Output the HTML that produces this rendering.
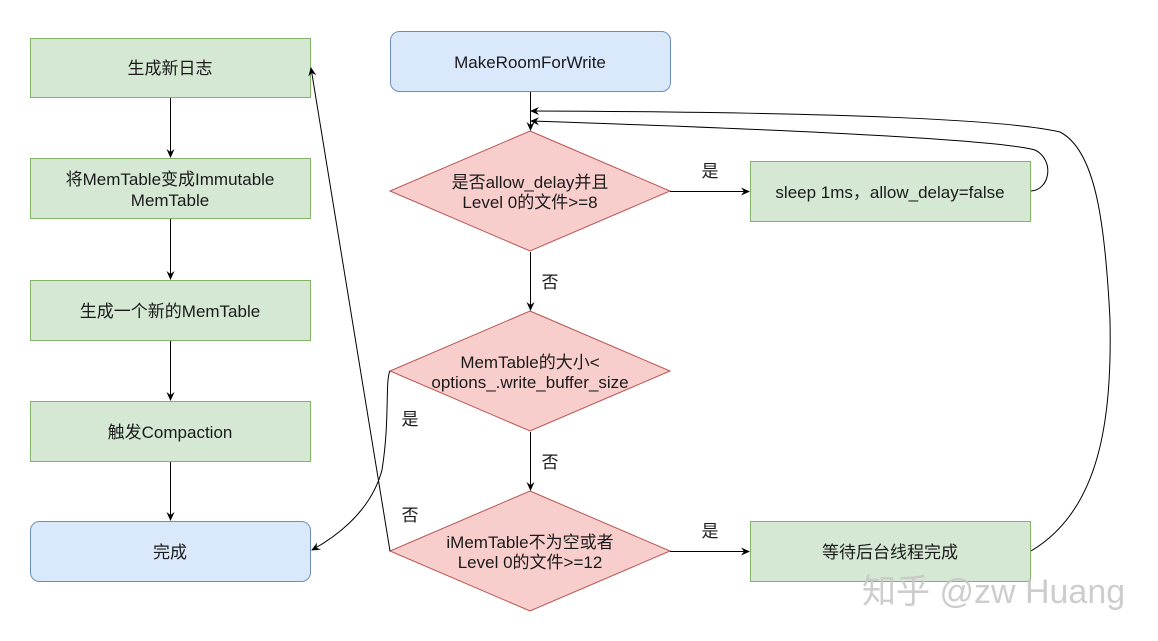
<!DOCTYPE html>
<html><head><meta charset="utf-8"><style>
html,body{margin:0;padding:0;background:#fff;}
svg{display:block;}
text{font-family:"Liberation Sans","Noto Sans CJK SC",sans-serif;font-size:17px;fill:#1a1a1a;}
</style></head><body>
<svg width="1158" height="641" viewBox="0 0 1158 641" xmlns="http://www.w3.org/2000/svg">
<defs><marker id="a" markerWidth="10" markerHeight="10" refX="8" refY="5" orient="auto" markerUnits="userSpaceOnUse"><path d="M0,1 L9,5 L0,9 L3,5 z" fill="#000"/></marker></defs>
<g stroke="#82b366" fill="#d5e8d4">
<rect x="30.5" y="38.5" width="280" height="59"/>
<rect x="30.5" y="158.5" width="280" height="60"/>
<rect x="30.5" y="280.5" width="280" height="60"/>
<rect x="30.5" y="401.5" width="280" height="60"/>
<rect x="750.5" y="161.5" width="280" height="60"/>
<rect x="750.5" y="521.5" width="280" height="60"/>
</g>
<g stroke="#6c8ebf" fill="#dae8fc">
<rect x="30.5" y="521.5" width="280" height="60" rx="9"/>
<rect x="390.5" y="31.5" width="280" height="60" rx="9"/>
</g>
<g stroke="#b85450" fill="#f8cecc">
<polygon points="530,131 670,191 530,251 390,191"/>
<polygon points="530,311 670,371 530,431 390,371"/>
<polygon points="530,491 670,551 530,611 390,551"/>
</g>
<g stroke="#000" stroke-width="1" fill="none" marker-end="url(#a)">
<line x1="170.5" y1="98" x2="170.5" y2="157"/>
<line x1="170.5" y1="219" x2="170.5" y2="279"/>
<line x1="170.5" y1="341" x2="170.5" y2="400"/>
<line x1="170.5" y1="462" x2="170.5" y2="520"/>
<line x1="530.5" y1="92" x2="530.5" y2="130"/>
<line x1="530.5" y1="252" x2="530.5" y2="310"/>
<line x1="530.5" y1="432" x2="530.5" y2="490"/>
<line x1="670" y1="191.5" x2="749" y2="191.5"/>
<line x1="670" y1="551.5" x2="749" y2="551.5"/>
<path d="M1031,191 C1050,190 1055,160 1035,150 C1000,140 800,130 531,121"/>
<path d="M1031,551 C1100,510 1112,420 1110,320 C1105,220 1095,150 1060,132 C1000,118 800,112 531,111"/>
<line x1="390" y1="551" x2="311" y2="68"/>
<path d="M390,371 C385,380 390,420 382,470 C370,515 330,540 312,550"/>
</g>
<g text-anchor="middle">
<text x="170" y="74">生成新日志</text>
<text x="170" y="185">将MemTable变成Immutable</text>
<text x="170" y="206">MemTable</text>
<text x="170" y="317">生成一个新的MemTable</text>
<text x="170" y="438">触发Compaction</text>
<text x="170" y="558">完成</text>
<text x="530" y="68">MakeRoomForWrite</text>
<text x="530" y="188">是否allow_delay并且</text>
<text x="530" y="208">Level 0的文件&gt;=8</text>
<text x="530" y="368">MemTable的大小&lt;</text>
<text x="530" y="388">options_.write_buffer_size</text>
<text x="530" y="548">iMemTable不为空或者</text>
<text x="530" y="568">Level 0的文件&gt;=12</text>
<text x="890" y="198">sleep 1ms，allow_delay=false</text>
<text x="890" y="558">等待后台线程完成</text>
<text x="710" y="177">是</text>
<text x="710" y="537">是</text>
<text x="550" y="288">否</text>
<text x="550" y="468">否</text>
<text x="410" y="425">是</text>
<text x="410" y="521">否</text>
</g>
<text x="862" y="603" style="font-size:34px;fill:#c8c8c8;opacity:0.9">知乎 @zw Huang</text>
</svg>
</body></html>
